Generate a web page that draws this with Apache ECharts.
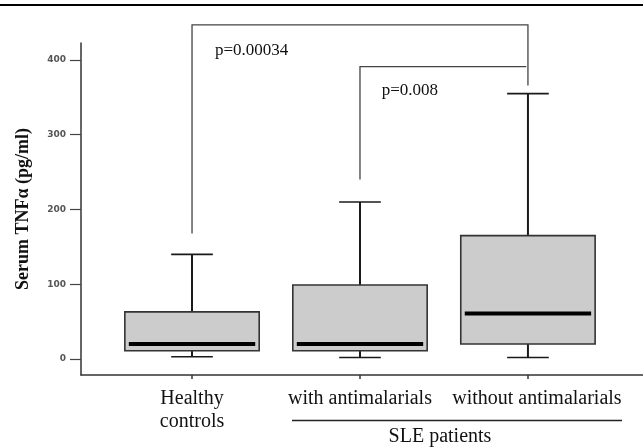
<!DOCTYPE html>
<html>
<head>
<meta charset="utf-8">
<script src="https://cdn.jsdelivr.net/npm/echarts@6/dist/echarts.min.js"></script>
<style>html,body{margin:0;padding:0;background:#fff;}#c{width:643px;height:448px;}</style>
</head>
<body>
<div id="c"></div>
<script>
// Categories (x positions 1..3)
const categories = ['Healthy\ncontrols', 'with antimalarials', 'without antimalarials'];
const positions = [1, 2, 3];
// Box statistics: [min, Q1, median, Q3, max]
const healthy = [3, 11, 20, 63, 140];
const withAnti = [2, 11, 20, 99, 210];
const withoutAnti = [2, 20, 61, 165, 355];
// Y tick labels
const yTicks = [0, 100, 200, 300, 400];
// Significance brackets: [xLeft, xRight, yTop, yLeftEnd, yRightEnd]
const bracketBig = [1, 3, 447, 168, 366];
const bracketSmall = [2, 2.99, 391, 240, 391];
// P-value labels: [text, x, y]
const pLabels = [['p=0.00034', 1.137, 412], ['p=0.008', 2.129, 358.5]];
const groupLabel = 'SLE patients';

const boxData = [healthy, withAnti, withoutAnti].map((s, i) => [positions[i]].concat(s));
const bracketData = [bracketBig, bracketSmall];

const chart = echarts.init(document.getElementById('c'), null, {renderer: 'canvas'});

function renderBox(params, api) {
  const x = api.value(0);
  const mn = api.value(1), q1 = api.value(2), md = api.value(3), q3 = api.value(4), mx = api.value(5);
  const hw = 0.4, cw = 0.124;
  const pMin = api.coord([x, mn]), pQ1 = api.coord([x, q1]), pMd = api.coord([x, md]);
  const pQ3 = api.coord([x, q3]), pMx = api.coord([x, mx]);
  const left = api.coord([x - hw, q3])[0], right = api.coord([x + hw, q3])[0];
  const cl = api.coord([x - cw, mx])[0], cr = api.coord([x + cw, mx])[0];
  const lineStyle = {stroke: '#1a1a1a', lineWidth: 2};
  return {
    type: 'group',
    children: [
      {type: 'line', shape: {x1: pQ3[0], y1: pQ3[1], x2: pMx[0], y2: pMx[1]}, style: lineStyle},
      {type: 'line', shape: {x1: cl, y1: pMx[1], x2: cr, y2: pMx[1]}, style: {stroke: '#1a1a1a', lineWidth: 1.6}},
      {type: 'line', shape: {x1: pQ1[0], y1: pQ1[1], x2: pMin[0], y2: pMin[1]}, style: lineStyle},
      {type: 'line', shape: {x1: cl, y1: pMin[1], x2: cr, y2: pMin[1]}, style: {stroke: '#1a1a1a', lineWidth: 1.6}},
      {type: 'rect', shape: {x: left, y: pQ3[1], width: right - left, height: pQ1[1] - pQ3[1]},
        style: {fill: '#cccccc', stroke: '#333', lineWidth: 1.6}},
      {type: 'line', shape: {x1: left + 4, y1: pMd[1], x2: right - 4, y2: pMd[1]}, style: {stroke: '#000', lineWidth: 4}}
    ]
  };
}

function renderBracket(params, api) {
  const x1 = api.value(0), x2 = api.value(1), yt = api.value(2), yl = api.value(3), yr = api.value(4);
  const a = api.coord([x1, yl]), b = api.coord([x1, yt]), c = api.coord([x2, yt]), d = api.coord([x2, yr]);
  return {
    type: 'polyline',
    shape: {points: [a, b, c, d]},
    style: {stroke: '#444', lineWidth: 1.3, fill: null}
  };
}

function renderP(params, api) {
  const p = api.coord([api.value(1), api.value(2)]);
  return {
    type: 'text',
    style: {text: pLabels[params.dataIndex][0], x: p[0], y: p[1], align: 'left', verticalAlign: 'middle',
      font: '17px "Liberation Serif"', fill: '#111'}
  };
}

const option = {
  backgroundColor: '#fff',
  animation: false,
  grid: {left: 81, right: 0, top: 43, bottom: 73, containLabel: false, outerBoundsMode: 'none'},
  xAxis: {
    type: 'value', min: 0.339, max: 3.685,
    splitLine: {show: false},
    axisLine: {show: true, onZero: false, lineStyle: {color: '#333', width: 1.5}},
    axisTick: {show: true, customValues: positions, length: 4, lineStyle: {color: '#333', width: 1.5}},
    axisLabel: {
      customValues: positions, margin: 12,
      formatter: function (v) {
        const i = positions.indexOf(Math.round(v));
        if (i < 0) return '';
        if (i === 2) return '{s|' + categories[i] + '}';
        return categories[i];
      },
      fontFamily: 'Liberation Serif', fontSize: 20, lineHeight: 23, color: '#111',
      rich: {s: {fontFamily: 'Liberation Serif', fontSize: 20, lineHeight: 23, color: '#111', padding: [0, 0, 0, 18]}}
    }
  },
  yAxis: {
    type: 'value', min: -21.4, max: 422.7,
    splitLine: {show: false},
    axisLine: {show: true, onZero: false, lineStyle: {color: '#333', width: 1.5}},
    axisTick: {show: true, customValues: yTicks, length: 11, lineStyle: {color: '#444', width: 1.2}},
    axisLabel: {customValues: yTicks, margin: 15, fontFamily: 'DejaVu Sans', fontWeight: 'bold', fontSize: 9, color: '#555'},
    name: 'Serum TNFα (pg/ml)', nameLocation: 'middle', nameRotate: 90, nameGap: 49,
    nameTextStyle: {fontFamily: 'Liberation Serif', fontWeight: 'bold', fontSize: 18, color: '#111'}
  },
  series: [
    {type: 'custom', renderItem: renderBracket, data: bracketData, encode: {x: [0, 1], y: [2, 3, 4]}, clip: false, z: 1, silent: true},
    {type: 'custom', renderItem: renderBox, data: boxData, encode: {x: 0, y: [1, 2, 3, 4, 5]}, z: 2, silent: true},
    {type: 'custom', renderItem: renderP, data: pLabels.map(p => [p[0], p[1], p[2]]), encode: {x: 1, y: 2}, clip: false, z: 3, silent: true}
  ],
  graphic: [
    {type: 'line', shape: {x1: 0, y1: 5, x2: 643, y2: 5}, style: {stroke: '#000', lineWidth: 2}},
    {type: 'line', shape: {x1: 292, y1: 420.5, x2: 622, y2: 420.5}, style: {stroke: '#222', lineWidth: 1.5}},
    {type: 'text', style: {text: groupLabel, x: 440, y: 437, align: 'center', verticalAlign: 'middle',
      font: '20px "Liberation Serif"', fill: '#111'}}
  ]
};
chart.setOption(option);
</script>
</body>
</html>
